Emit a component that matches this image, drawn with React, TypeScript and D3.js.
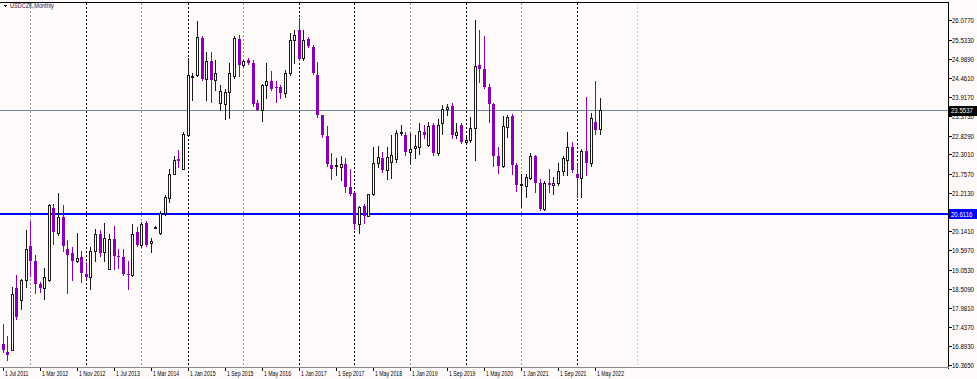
import React from "react";
import * as d3 from "d3";

// USDCZK monthly bars, Jul 2011 .. Jun 2022 (two 2014 months absent in the feed)
const barOpen = [
  16.95, 16.74, 16.79, 18.54, 18.2, 18.77, 19.71, 19.31, 18.65, 18.54,
  18.76, 20.8, 20.08, 20.55, 19.64, 19.52, 19.31, 19.42, 18.93, 18.84,
  19.59, 20.05, 19.55, 19.08, 19.93, 19.45, 19.42, 18.93, 18.91, 20.11,
  19.76, 20.37, 19.8, 20.26, 20.09, 20.65, 21.08, 21.74, 22.16, 21.88,
  22.85, 24.49, 24.54, 25.58, 24.43, 24.94, 24.4, 23.76, 23.73, 24.06,
  24.52, 25.55, 24.83, 24.95, 24.87, 23.74, 23.55, 24.26, 24.37, 24.19,
  24.19, 24.03, 24.59, 25.53, 25.82, 25.02, 25.55, 25.33, 24.54, 23.41,
  22.82, 22.0, 21.97, 21.95, 22.03, 21.38, 21.21, 20.33, 20.84, 20.58,
  21.18, 22.05, 22.19, 21.86, 22.1, 22.16, 22.9, 22.85, 22.37, 22.47,
  22.51, 22.94, 22.56, 23.13, 22.35, 23.18, 23.57, 23.67, 22.85, 23.13,
  22.66, 22.7, 23.04, 24.83, 24.71, 24.2, 23.72, 22.25, 21.97, 23.08,
  23.38, 22.0, 21.43, 21.4, 21.65, 22.25, 21.5, 20.77, 21.5, 21.45,
  21.5, 21.84, 22.14, 22.5, 21.74, 21.65, 22.4, 22.05, 23.22, 23.01,
];
const barHigh = [
  17.52, 17.2, 18.58, 18.91, 18.8, 20.16, 20.44, 19.48, 18.7, 19.1,
  20.91, 20.91, 21.21, 20.87, 19.88, 19.69, 20.09, 19.59, 19.26, 19.69,
  20.2, 20.16, 20.37, 20.06, 20.3, 19.64, 19.64, 19.3, 20.33, 20.25,
  20.4, 20.42, 19.95, 20.28, 20.7, 21.15, 21.88, 22.26, 22.44, 22.94,
  25.02, 24.6, 26.05, 25.65, 25.2, 25.2, 24.95, 24.26, 24.14, 24.88,
  25.65, 25.68, 24.95, 25.02, 24.96, 23.84, 24.3, 24.87, 24.66, 24.36,
  24.26, 24.68, 25.72, 25.82, 26.15, 25.82, 25.6, 25.38, 24.9, 23.42,
  23.1, 22.35, 22.21, 22.25, 22.2, 21.88, 21.25, 20.85, 20.91, 21.2,
  22.52, 22.54, 22.36, 22.52, 22.85, 23.0, 23.13, 22.93, 22.9, 22.85,
  23.19, 23.12, 23.22, 23.2, 23.3, 23.7, 23.72, 23.74, 23.2, 23.2,
  22.8, 23.35, 26.1, 25.8, 25.65, 24.3, 23.75, 22.5, 23.38, 23.41,
  23.44, 22.05, 21.75, 21.76, 22.33, 22.3, 21.6, 21.56, 21.9, 21.66,
  22.05, 22.25, 22.94, 22.65, 22.0, 22.45, 23.91, 23.46, 24.38, 23.88,
];
const barLow = [
  16.75, 16.51, 16.78, 17.66, 17.94, 18.56, 18.89, 18.39, 18.44, 18.23,
  18.74, 19.78, 20.02, 19.59, 18.41, 18.77, 19.26, 18.72, 18.82, 18.51,
  19.31, 19.45, 19.29, 19.08, 19.08, 19.1, 18.9, 18.51, 18.88, 19.73,
  19.7, 19.72, 19.56, 20.25, 20.05, 20.6, 20.96, 21.74, 21.95, 21.88,
  22.85, 23.84, 24.5, 24.4, 23.84, 23.79, 24.12, 23.55, 23.29, 23.33,
  24.45, 24.5, 24.8, 24.84, 23.66, 23.55, 23.25, 23.88, 24.12, 23.79,
  23.88, 23.92, 24.55, 24.87, 24.95, 24.95, 25.33, 24.57, 23.36, 22.8,
  21.98, 21.62, 21.72, 21.57, 21.24, 21.15, 20.21, 20.08, 20.37, 20.56,
  21.15, 21.95, 21.81, 21.62, 21.65, 22.1, 22.85, 22.3, 22.03, 22.2,
  22.31, 22.77, 22.55, 22.3, 22.3, 22.89, 23.4, 22.77, 22.77, 22.63,
  22.6, 22.65, 22.14, 24.35, 24.16, 23.22, 21.97, 21.78, 21.95, 22.8,
  21.76, 21.27, 20.82, 21.1, 21.6, 21.24, 20.74, 20.74, 21.24, 21.2,
  21.45, 21.71, 21.71, 21.8, 21.1, 21.1, 21.71, 21.97, 22.87, 22.87,
];
const barClose = [
  16.79, 16.66, 18.37, 17.71, 18.77, 19.64, 19.31, 18.65, 18.54, 18.84,
  20.87, 20.11, 20.55, 19.72, 19.47, 19.31, 19.38, 18.95, 18.86, 19.59,
  20.06, 19.52, 19.95, 19.93, 19.45, 19.4, 18.93, 18.91, 20.06, 19.76,
  20.33, 19.76, 19.87, 20.27, 20.65, 21.1, 21.74, 22.14, 22.11, 22.87,
  24.54, 24.52, 25.61, 24.43, 24.94, 24.4, 24.6, 24.09, 24.06, 24.59,
  25.58, 24.83, 24.92, 24.87, 23.72, 23.55, 24.26, 24.36, 24.14, 24.17,
  24.03, 24.59, 25.53, 25.68, 24.99, 25.53, 25.36, 24.59, 23.41, 22.85,
  22.03, 21.9, 22.0, 22.03, 21.38, 21.2, 20.33, 20.82, 20.58, 21.18,
  22.05, 22.23, 21.86, 22.22, 22.3, 22.91, 22.92, 22.37, 22.45, 22.53,
  22.97, 22.85, 23.1, 22.35, 23.13, 23.57, 23.65, 22.85, 22.94, 22.66,
  22.7, 23.04, 24.78, 24.71, 24.2, 23.72, 22.25, 21.97, 23.1, 23.35,
  22.0, 21.43, 21.46, 21.67, 22.25, 21.5, 20.77, 21.5, 21.45, 21.5,
  21.84, 22.19, 22.5, 21.86, 21.65, 22.4, 22.05, 23.32, 22.99, 23.5537,
];

const xTickLabels = [
  "1 Jul 2011", "1 Mar 2012", "1 Nov 2012", "1 Jul 2013", "1 Mar 2014",
  "1 Jan 2015", "1 Sep 2015", "1 May 2016", "1 Jan 2017", "1 Sep 2017",
  "1 May 2018", "1 Jan 2019", "1 Sep 2019", "1 May 2020", "1 Jan 2021",
  "1 Sep 2021", "1 May 2022",
];
const xTickBars = [0, 8, 16, 24, 32, 40, 48, 56, 64, 72, 80, 88, 96, 104, 112, 120, 128];

const yTickValues = [
  26.077, 25.533, 24.989, 24.461, 23.917, 23.373, 22.829, 22.301, 21.757,
  21.213, 20.141, 19.597, 19.053, 18.509, 17.981, 17.437, 16.893, 16.365,
];

const bidPrice = 23.5537;
const levelPrice = 20.6116;

// January period separators (bar index)
const separatorsDark = [18, 40, 64, 76, 100, 124];
const separatorsGrey = [6, 30, 52, 88, 112];
const separatorsFuture = [137];

const W = 977;
const H = 379;
const plotRight = 948.5;
const plotTop = 2.5;
const plotBottom = 367.5;

const BEAR = "#8c00b4";
const FONT = "'Liberation Sans', Arial, sans-serif";

export default function App() {
  const x = d3.scaleLinear().domain([0, 129]).range([2.5, 599.8]);
  const y = d3.scaleLinear().domain([16.314, 26.596]).range([367, 2]);
  const py = (v: number) => Math.round(y(v));

  const candles = barOpen.map((o, i) => {
    const c = barClose[i];
    const h = barHigh[i];
    const l = barLow[i];
    const col = Math.round(x(i));
    const bull = c >= o;
    const top = py(Math.max(o, c));
    const bot = py(Math.min(o, c));
    const wick = (
      <line
        key={"w" + i}
        x1={col + 0.5}
        x2={col + 0.5}
        y1={py(h)}
        y2={py(l) + 1}
        stroke={bull ? "#1a1a1a" : BEAR}
        strokeWidth={1}
      />
    );
    const body = bull ? (
      <rect
        key={"b" + i}
        x={col - 0.5}
        y={top + 0.5}
        width={2}
        height={Math.max(bot - top, 1)}
        fill="#ffffff"
        stroke="#1a1a1a"
        strokeWidth={1}
      />
    ) : (
      <rect
        key={"b" + i}
        x={col - 1}
        y={top}
        width={3}
        height={Math.max(bot - top, 1)}
        fill={BEAR}
      />
    );
    return (
      <g key={i}>
        {wick}
        {body}
      </g>
    );
  });

  const sep = (idx: number, color: string, key: string) => {
    const sx = Math.round(x(idx)) + 0.5;
    return (
      <line
        key={key}
        x1={sx}
        x2={sx}
        y1={plotTop}
        y2={plotBottom}
        stroke={color}
        strokeWidth={1}
        strokeDasharray="2,2"
      />
    );
  };

  const bidY = Math.round(y(bidPrice)) + 0.5;
  const levelY = Math.round(y(levelPrice));

  return (
    <svg
      width={W}
      height={H}
      style={{ position: "fixed", left: 0, top: 0, background: "#fffafa" }}
      shapeRendering="crispEdges"
    >
      <rect x={0} y={0} width={W} height={H} fill="#fffafa" />

      {separatorsGrey.map((s, i) => sep(s, "#9a9a9a", "sg" + i))}
      {separatorsDark.map((s, i) => sep(s, "#000000", "sd" + i))}
      {separatorsFuture.map((s, i) => sep(s, "#cfcfcf", "sf" + i))}

      <line x1={0} x2={plotRight} y1={bidY} y2={bidY} stroke="#778899" strokeWidth={1} />
      <line x1={0} x2={plotRight} y1={levelY} y2={levelY} stroke="#0000ff" strokeWidth={2} />

      {candles}

      {/* frame */}
      <line x1={0} x2={plotRight} y1={plotTop} y2={plotTop} stroke="#000" strokeWidth={1} />
      <line x1={plotRight} x2={plotRight} y1={plotTop} y2={plotBottom + 1} stroke="#000" strokeWidth={1} />
      <line x1={0} x2={plotRight} y1={plotBottom} y2={plotBottom} stroke="#8a8a8a" strokeWidth={1} />

      {/* price axis */}
      {yTickValues.map((v, i) => {
        const ty = Math.round(y(v)) + 0.5;
        return (
          <g key={"yt" + i}>
            <line x1={plotRight} x2={plotRight + 3} y1={ty} y2={ty} stroke="#000" />
            <text
              transform={`translate(952,${ty}) scale(0.82,1)`}
              dy="0.35em"
              fontSize={7.4}
              fontFamily={FONT}
              fill="#000"
              shapeRendering="auto"
            >
              {v.toFixed(4)}
            </text>
          </g>
        );
      })}

      <rect x={949} y={bidY - 5} width={28} height={10} fill="#000" />
      <text
        transform={`translate(951,${bidY}) scale(0.82,1)`}
        dy="0.35em"
        fontSize={7.4}
        fontFamily={FONT}
        fill="#fff"
      >
        {bidPrice.toFixed(4)}
      </text>
      <rect x={949} y={levelY - 5} width={28} height={10} fill="#0000ff" />
      <text
        transform={`translate(951,${levelY}) scale(0.82,1)`}
        dy="0.35em"
        fontSize={7.4}
        fontFamily={FONT}
        fill="#fff"
      >
        {levelPrice.toFixed(4)}
      </text>

      {/* time axis */}
      {xTickBars.map((b, i) => {
        const tx = Math.round(x(b)) + 0.5;
        return (
          <g key={"xt" + i}>
            <line x1={tx} x2={tx} y1={plotBottom} y2={plotBottom + 3} stroke="#000" />
            <text
              transform={`translate(${tx + 1.5},375.5) scale(0.7,1)`}
              fontSize={7.4}
              fontFamily={FONT}
              fill="#000"
            >
              {xTickLabels[i]}
            </text>
          </g>
        );
      })}

      {/* title */}
      <path d="M3.5,4.5 L7.5,4.5 L5.5,7 Z" fill="#000" />
      <text
        transform="translate(10,8.3) scale(0.75,1)"
        fontSize={7.4}
        fontFamily={FONT}
        fill="#1b1b40"
      >
        USDCZK,Monthly
      </text>
    </svg>
  );
}
